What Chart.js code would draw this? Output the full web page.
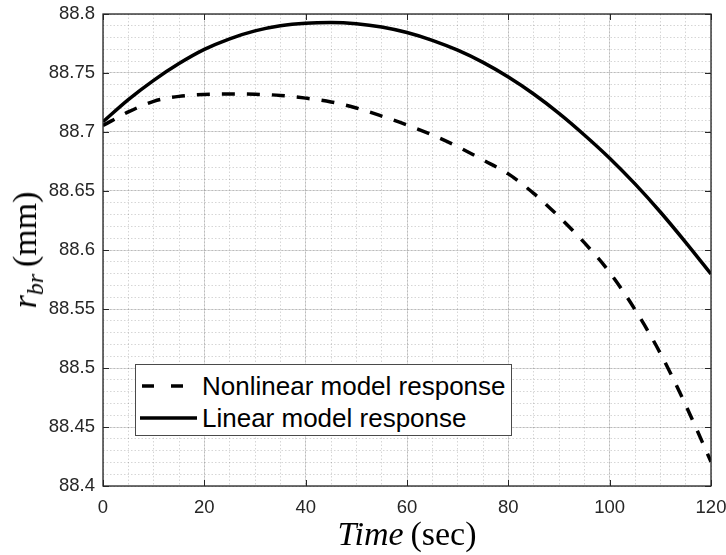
<!DOCTYPE html>
<html>
<head>
<meta charset="utf-8">
<script src="https://cdn.jsdelivr.net/npm/chart.js@4.4.1/dist/chart.umd.min.js"></script>
<style>
html,body{margin:0;padding:0;background:#fff;}
#wrap{position:relative;width:726px;height:555px;overflow:hidden;background:#fff;}
#c{position:absolute;left:0;top:0;}
.ttl{position:absolute;font-family:"Liberation Serif","Times New Roman",serif;color:#000;white-space:nowrap;font-size:34px;line-height:1;}
.ttl sub{font-size:0.7em;vertical-align:-0.28em;line-height:0;}
#xt{left:407px;top:534px;transform:translate(-50%,-50%);}
#yt{left:25px;top:250px;transform:translate(-50%,-50%) rotate(-90deg);}
#legend{position:absolute;left:135px;top:364px;width:377px;height:72px;border:1px solid #4a4a4a;background:#fff;box-sizing:border-box;font-family:"Liberation Sans",Arial,sans-serif;font-size:26px;color:#000;}
.row{position:absolute;left:0;height:30px;width:100%;}
.row svg{position:absolute;left:0;top:0;}
.row span{position:absolute;left:66px;top:50%;transform:translateY(-50%);line-height:1;white-space:nowrap;}
</style>
</head>
<body>
<div id="wrap">
  <canvas id="c" width="726" height="555"></canvas>
  <div id="xt" class="ttl"><i>Time</i>&#8201;(sec)</div>
  <div id="yt" class="ttl"><i>r</i><sub><i>br</i></sub>&#8201;(mm)</div>
  <div id="legend"></div>
</div>
<script>
// ---- data ----
const times = [0,5,10,15,20,25,30,35,40,45,50,55,60,65,70,75,80,85,90,95,100,105,110,115,120];
const nonlinearResponse = [88.7055,88.7170,88.7260,88.7302,88.7318,88.7322,88.7320,88.7310,88.7287,88.7255,88.7203,88.7135,88.7060,88.6975,88.6876,88.6763,88.6645,88.6480,88.6282,88.6062,88.5810,88.5495,88.5125,88.4686,88.4206];
const linearResponse = [88.7087,88.7275,88.7438,88.7580,88.7700,88.7790,88.7857,88.7900,88.7922,88.7928,88.7918,88.7890,88.7843,88.7777,88.7693,88.7590,88.7466,88.7322,88.7158,88.6975,88.6778,88.6560,88.6322,88.6065,88.5797];
const seriesNames = ['Nonlinear model response','Linear model response'];
const xTickLabels = ['0','20','40','60','80','100','120'];
const yTickLabels = ['88.4','88.45','88.5','88.55','88.6','88.65','88.7','88.75','88.8'];

const pick = (labels, v) => { const l = labels.find(s => Math.abs(parseFloat(s) - v) < 1e-7); return l === undefined ? '' : l; };
const toXY = arr => arr.map((v, i) => ({x: times[i], y: v}));

const AX = '#262626';
const tickFont = {family: '"Liberation Sans", Arial, sans-serif', size: 18.5};
const noPad = s => { s.paddingLeft = 0; s.paddingRight = 0; s.paddingTop = 0; s.paddingBottom = 0; };

const boxPlugin = {
  id: 'matlabBox',
  afterDraw(chart) {
    const {ctx, chartArea: a, scales: {x, y}} = chart;
    ctx.save();
    ctx.strokeStyle = AX;
    ctx.lineWidth = 1;
    ctx.beginPath();
    x.ticks.forEach(t => {
      const px = Math.round(x.getPixelForValue(t.value)) + 0.5;
      ctx.moveTo(px, a.bottom); ctx.lineTo(px, a.bottom - 6);
      ctx.moveTo(px, a.top); ctx.lineTo(px, a.top + 6);
    });
    y.ticks.forEach(t => {
      const py = Math.round(y.getPixelForValue(t.value)) + 0.5;
      ctx.moveTo(a.left, py); ctx.lineTo(a.left + 6, py);
      ctx.moveTo(a.right, py); ctx.lineTo(a.right - 6, py);
    });
    ctx.stroke();
    ctx.lineWidth = 1.3;
    ctx.strokeRect(a.left, a.top, a.right - a.left, a.bottom - a.top);
    ctx.restore();
  }
};

const chart = new Chart(document.getElementById('c'), {
  type: 'line',
  data: {
    datasets: [
      {label: seriesNames[0], data: toXY(nonlinearResponse), borderColor: '#000', borderWidth: 3.5,
       borderDash: [13, 12], borderCapStyle: 'butt', pointRadius: 0, cubicInterpolationMode: 'monotone', xAxisID: 'x', yAxisID: 'y'},
      {label: seriesNames[1], data: toXY(linearResponse), borderColor: '#000', borderWidth: 3.5,
       pointRadius: 0, cubicInterpolationMode: 'monotone', xAxisID: 'x', yAxisID: 'y'}
    ]
  },
  options: {
    responsive: false,
    animation: false,
    devicePixelRatio: 1,
    layout: {padding: {top: 14, right: 15, left: 0, bottom: 0}, autoPadding: false},
    plugins: {legend: {display: false}, tooltip: {enabled: false}},
    scales: {
      xm: {
        type: 'linear', position: 'bottom', min: 0, max: 120,
        ticks: {display: false, stepSize: 5},
        grid: {color: 'rgba(0,0,0,0.16)', lineWidth: 1, drawTicks: false},
        border: {display: false, dash: [1.5, 2]},
        afterFit: s => { s.height = 0; noPad(s); }
      },
      ym: {
        type: 'linear', position: 'left', min: 88.4, max: 88.8,
        ticks: {display: false, stepSize: 0.01},
        grid: {color: 'rgba(0,0,0,0.16)', lineWidth: 1, drawTicks: false},
        border: {display: false, dash: [1.5, 2]},
        afterFit: s => { s.width = 0; noPad(s); }
      },
      x: {
        type: 'linear', position: 'bottom', min: 0, max: 120,
        ticks: {stepSize: 20, autoSkip: false, maxRotation: 0, padding: 11, color: AX, font: tickFont,
                callback: v => pick(xTickLabels, v)},
        grid: {color: 'rgba(0,0,0,0.13)', lineWidth: 1, drawTicks: false},
        border: {display: false},
        afterFit: s => { s.height = 69; noPad(s); }
      },
      y: {
        type: 'linear', position: 'left', min: 88.4, max: 88.8,
        ticks: {stepSize: 0.05, autoSkip: false, padding: 8, color: AX, font: tickFont,
                callback: v => pick(yTickLabels, v)},
        grid: {color: 'rgba(0,0,0,0.13)', lineWidth: 1, drawTicks: false},
        border: {display: false},
        afterFit: s => { s.width = 103; noPad(s); }
      }
    }
  },
  plugins: [boxPlugin]
});

// ---- legend (HTML, built from the datasets) ----
const legend = document.getElementById('legend');
const rowCenters = [21, 53];
chart.data.datasets.forEach((ds, i) => {
  const row = document.createElement('div');
  row.className = 'row';
  row.style.top = (rowCenters[i] - 15) + 'px';
  const dashed = ds.borderDash && ds.borderDash.length;
  const x1 = dashed ? 6 : 4, x2 = dashed ? 47 : 61;
  row.innerHTML = '<svg width="70" height="30"><line x1="' + x1 + '" y1="15" x2="' + x2 + '" y2="15" stroke="#000" stroke-width="3.5"' +
    (dashed ? ' stroke-dasharray="12 17"' : '') + '/></svg><span>' + ds.label + '</span>';
  legend.appendChild(row);
});
</script>
</body>
</html>
